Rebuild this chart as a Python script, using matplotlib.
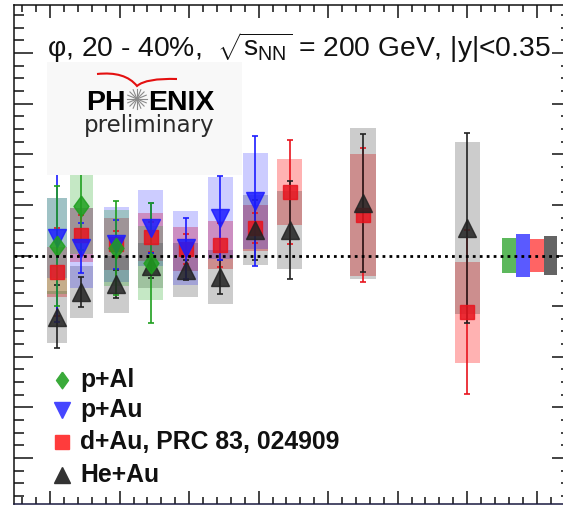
import numpy as np
import matplotlib
matplotlib.use("Agg")
import matplotlib.pyplot as plt
from matplotlib.patches import Rectangle
from matplotlib.path import Path
from matplotlib.patches import PathPatch
from matplotlib.ticker import MultipleLocator

plt.rcParams['font.family'] = ['Liberation Sans', 'DejaVu Sans']
plt.rcParams['mathtext.fontset'] = 'custom'
plt.rcParams['mathtext.rm'] = 'Liberation Sans'
plt.rcParams['mathtext.it'] = 'Liberation Sans'

W, H = 563, 507

# pT bins (GeV/c)
x_bins = [1.1, 1.45, 1.95, 2.45, 2.95, 3.45, 3.95, 4.45, 5.5, 7.0]
box_w = [0.29, 0.33, 0.36, 0.36, 0.36, 0.36, 0.36, 0.36, 0.37, 0.36]

# p+Al
pal_y = [1.038, 1.196, 1.031, 0.969]
pal_stat = [0.237, 0.174, 0.186, 0.237]
pal_sys = [0.19, 0.19, 0.15, 0.146]

# p+Au
pau_y = [1.069, 1.030, 1.045, 1.108, 1.028, 1.150, 1.217]
pau_stat = [0.33, 0.099, 0.097, 0.099, 0.119, 0.166, 0.257]
pau_sys = [0.158, 0.158, 0.148, 0.149, 0.146, 0.162, 0.19]

# d+Au
dau_y = [0.936, 1.081, 1.045, 1.072, 1.025, 1.042, 1.108, 1.252, 1.160, 0.775]
dau_stat = [0.174, 0.08, 0.05, 0.06, 0.06, 0.087, 0.06, 0.206, 0.265, 0.324]
dau_sys = [0.099, 0.107, 0.103, 0.095, 0.086, 0.095, 0.091, 0.13, 0.241, 0.198]

# He+Au
heau_y = [0.758, 0.857, 0.886, 0.960, 0.943, 0.916, 1.101, 1.101, 1.206, 1.11]
heau_stat = [0.125, 0.06, 0.055, 0.05, 0.04, 0.067, 0.119, 0.194, 0.273, 0.375]
heau_sys = [0.103, 0.103, 0.112, 0.09, 0.105, 0.107, 0.138, 0.154, 0.299, 0.34]

# global normalisation uncertainties
norm_x = [7.6, 7.8, 8.0, 8.2]
norm_err = [0.071, 0.085, 0.065, 0.077]

labels = ['p+Al', 'p+Au', 'd+Au, PRC 83, 024909', 'He+Au']


def fx(px):
    return px / W


def fy(py):
    return 1 - py / H


fig = plt.figure(figsize=(W / 100, H / 100), dpi=100)
ax = fig.add_axes([fx(14), fy(503.5), 557.4 / W, 498.5 / H])
ax.set_xlim(0.48, 8.5)
ax.set_ylim(0.02, 1.99)

# series: (y, stat, sys, box colour, mark colour, marker, size)
diamond = Path([(0, 1), (0.72, 0), (0, -1), (-0.72, 0), (0, 1)])
series = [
    (dau_y, dau_stat, dau_sys, (1, 0, 0, 0.3), '#e8141e', 's', 10),
    (heau_y, heau_stat, heau_sys, (0, 0, 0, 0.2), '#222222', '^', 13),
    (pau_y, pau_stat, pau_sys, (0, 0, 1, 0.2), '#1c1cff', 'v', 13),
    (pal_y, pal_stat, pal_sys, (0.1, 0.65, 0.1, 0.25), '#1f9f1f', diamond, 15),
]

# systematic boxes first
for yv, st, sy, bc, mc, mk, ms in series:
    for i in range(len(yv)):
        ax.add_patch(Rectangle((x_bins[i] - box_w[i] / 2, yv[i] - sy[i]), box_w[i], 2 * sy[i],
                               facecolor=bc, edgecolor='none', zorder=2))

for yv, st, sy, bc, mc, mk, ms in series:
    n = len(yv)
    ax.errorbar(x_bins[:n], yv, yerr=st, fmt='none', ecolor=mc, elinewidth=1.2,
                capsize=2.2, capthick=1.2, zorder=3)
    ax.plot(x_bins[:n], yv, ls='none', marker=mk, ms=ms, color=mc, mec=mc, alpha=0.85, zorder=4)

ax.axhline(1, color='k', lw=2, ls=(0, (1.0, 1.5)), zorder=5)

norm_cols = ['#5cb85c', '#5a5aff', '#ff6464', '#646464']
for i in range(4):
    ax.add_patch(Rectangle((norm_x[i] - 0.1, 1 - norm_err[i]), 0.2, 2 * norm_err[i],
                           facecolor=norm_cols[i], edgecolor='none', zorder=4))

ax.xaxis.set_major_locator(MultipleLocator(1))
ax.xaxis.set_minor_locator(MultipleLocator(0.2))
ax.yaxis.set_major_locator(MultipleLocator(0.2))
ax.yaxis.set_minor_locator(MultipleLocator(0.05))
ax.tick_params(axis='x', which='both', direction='in', top=True, bottom=True,
               labelbottom=False, width=1.1, color='#111111')
ax.tick_params(axis='x', which='major', length=9.4)
ax.tick_params(axis='x', which='minor', length=5.2)
ax.tick_params(axis='y', which='both', direction='in', left=True, right=True,
               labelleft=False, width=1.1, color='#111111')
ax.tick_params(axis='y', which='major', length=13.7)
ax.tick_params(axis='y', which='minor', length=7.2)
for s in ax.spines.values():
    s.set_linewidth(1.1)
    s.set_color('#111111')
ax.spines['bottom'].set_color('#1a1a40')

# title
fig.text(fx(47), fy(57), r"φ, 20 - 40%,  $\sqrt{s_{\rm NN}}$ = 200 GeV, |y|<0.35",
         fontsize=20.3, va='baseline', ha='left', color='#111111')

# PHENIX preliminary label
fig.patches.append(Rectangle((fx(47), fy(175)), (242 - 47) / W, (175 - 62) / H,
                             transform=fig.transFigure, facecolor='#f8f8f8',
                             edgecolor='none', zorder=1))
wing = Path([(fx(97), fy(74)), (fx(125), fy(71)), (fx(137), fy(86)),
             (fx(146), fy(78)), (fx(177), fy(79))],
            [Path.MOVETO, Path.CURVE3, Path.CURVE3, Path.CURVE3, Path.CURVE3])
fig.patches.append(PathPatch(wing, transform=fig.transFigure, facecolor='none',
                             edgecolor='#e41010', lw=1.5, zorder=2))
fig.text(fx(126), fy(110), "PH", fontsize=20.5, fontweight='bold', ha='right', va='baseline')
fig.text(fx(148), fy(110), "ENIX", fontsize=20.5, fontweight='bold', ha='left', va='baseline')
for a in np.linspace(0, np.pi, 8, endpoint=False):
    dx, dy = 10 * np.cos(a), 10 * np.sin(a)
    fig.lines.append(plt.Line2D([fx(137 - dx), fx(137 + dx)], [fy(99 - dy), fy(99 + dy)],
                                transform=fig.transFigure, color='#8a8a8a', lw=0.8))
fig.text(fx(149), fy(132), "preliminary", fontsize=16.5, family='DejaVu Sans',
         ha='center', va='baseline', color='#2a2a2a')

# legend
leg_y = [380, 410, 442, 475]
leg_mk = [diamond, 'v', 's', '^']
leg_col = ['#3aaa3a', '#4646ff', '#ff3c3c', '#333333']
leg_ms = [12, 11, 10, 11]
for i in range(4):
    fig.lines.append(plt.Line2D([fx(62)], [fy(leg_y[i])], transform=fig.transFigure,
                                marker=leg_mk[i], ms=leg_ms[i], color=leg_col[i], ls='none'))
    fig.text(fx(80), fy(leg_y[i]), labels[i], fontsize=17.8, fontweight='bold',
             va='center', ha='left', color='#111111')

fig.savefig('out.png', dpi=100)
